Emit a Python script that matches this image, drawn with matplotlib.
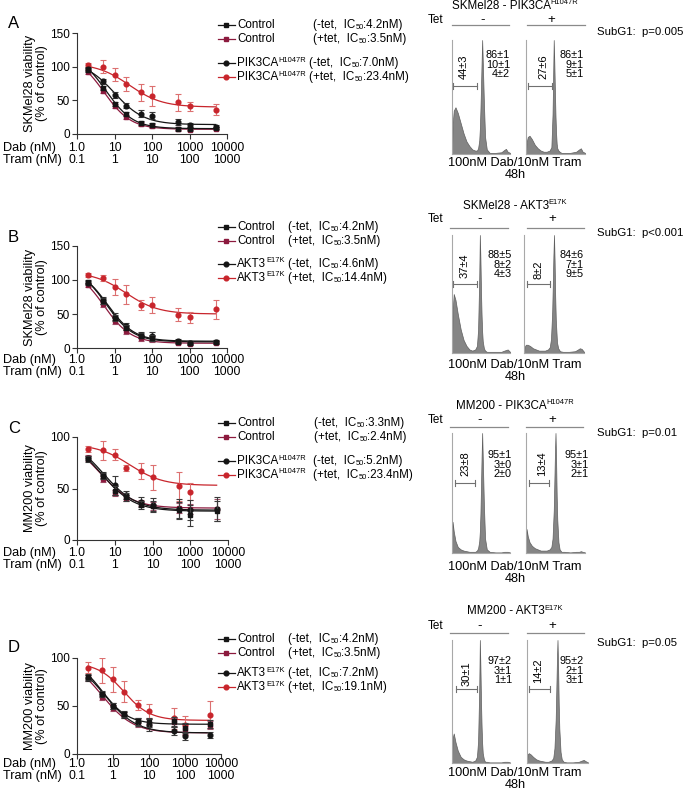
"""Dose-response curves + cell-cycle histograms (4 rows, A-D)."""

import numpy as np
import matplotlib

matplotlib.use("Agg")
import matplotlib.pyplot as plt
from matplotlib.lines import Line2D

plt.rcParams.update({
    "font.family": ["Liberation Sans", "DejaVu Sans"],
    "axes.linewidth": 0.8,
})

# ---------------------------------------------------------------- data
DAB = [2, 5, 10, 20, 50, 100, 500, 1000, 5000]
DAB_TICKS = [1, 10, 100, 1000, 10000]
DAB_LABELS = ["1.0", "10", "100", "1000", "10000"]
TRAM_LABELS = ["0.1", "1", "10", "100", "1000"]

# fits: (top, bottom, IC50 in Dab nM, hill)
A_CTRL_M = [95, 68, 45, 29, 17, 13, 8, 8, 9]
A_CTRL_M_ERR = [3, 3, 3, 3, 3, 3, 2, 2, 2]
A_CTRL_P = [92, 64, 41, 25, 15, 12, 7, 6, 8]
A_CTRL_P_ERR = [3, 3, 3, 3, 3, 3, 2, 2, 2]
A_MUT_M = [97, 78, 58, 42, 30, 27, 18, 13, 11]
A_MUT_M_ERR = [3, 3, 5, 4, 5, 5, 4, 3, 3]
A_MUT_P = [102, 100, 88, 74, 62, 57, 47, 41, 36]
A_MUT_P_ERR = [3, 10, 10, 10, 13, 15, 13, 7, 8]
A_FITS = [(120, 8, 6.0, 1.2), (118, 7, 5.2, 1.2), (108, 14, 10, 1.1), (105, 40, 25, 1.0)]

B_CTRL_M = [97, 69, 44, 30, 18, 15, 9, 8, 9]
B_CTRL_M_ERR = [3, 4, 4, 4, 4, 4, 2, 2, 2]
B_CTRL_P = [93, 64, 40, 25, 15, 13, 8, 6, 8]
B_CTRL_P_ERR = [3, 4, 4, 4, 4, 4, 2, 2, 2]
B_MUT_M = [96, 70, 46, 32, 19, 17, 10, 8, 9]
B_MUT_M_ERR = [3, 5, 5, 5, 5, 6, 3, 3, 3]
B_MUT_P = [108, 103, 90, 79, 63, 63, 49, 45, 57]
B_MUT_P_ERR = [3, 4, 12, 14, 7, 12, 10, 8, 14]
B_FITS = [(120, 9, 6.0, 1.2), (118, 7, 5.2, 1.2), (118, 10, 6.5, 1.2), (112, 50, 20, 1.0)]

C_CTRL_M = [79, 62, 48, 42, 34, 33, 29, 24, 28]
C_CTRL_M_ERR = [3, 3, 4, 4, 4, 5, 8, 10, 10]
C_CTRL_P = [80, 59, 46, 41, 36, 33, 31, 30, 30]
C_CTRL_P_ERR = [3, 3, 3, 3, 3, 4, 5, 5, 10]
C_MUT_M = [80, 63, 53, 44, 37, 34, 30, 29, 30]
C_MUT_M_ERR = [2, 3, 9, 4, 5, 7, 10, 10, 12]
C_MUT_P = [88, 87, 83, 70, 67, 61, 52, 47, np.nan]
C_MUT_P_ERR = [3, 9, 5, 3, 8, 12, 14, 8, 0]
C_FITS = [(100, 28, 4.5, 1.0), (100, 31, 4.0, 1.0), (100, 29, 5.0, 1.0), (93, 53, 25, 1.0)]

D_CTRL_M = [80, 63, 50, 42, 34, 33, 34, 27, 31]
D_CTRL_M_ERR = [3, 3, 3, 3, 4, 5, 5, 5, 4]
D_CTRL_P = [79, 59, 48, 41, 32, 31, 33, 26, 30]
D_CTRL_P_ERR = [3, 3, 3, 3, 4, 5, 5, 5, 4]
D_MUT_M = [79, 62, 50, 41, 33, 30, 24, 19, 20]
D_MUT_M_ERR = [3, 3, 3, 3, 4, 6, 4, 4, 3]
D_MUT_P = [90, 87, 78, 65, 51, 45, 37, 30, 41]
D_MUT_P_ERR = [6, 13, 13, 11, 5, 7, 11, 10, 14]
D_FITS = [(100, 31, 5.0, 1.2), (100, 22, 5.0, 1.0), (100, 22, 6.0, 1.0), (95, 35, 20, 1.2)]

# cell-cycle histograms (DNA content fraction -> normalised counts)
HIST_X = [0.00, 0.01, 0.03, 0.06, 0.10, 0.15, 0.20, 0.25, 0.30, 0.35,
          0.40, 0.43, 0.45, 0.47, 0.48, 0.49, 0.50, 0.51, 0.52, 0.53,
          0.55, 0.57, 0.60, 0.65, 0.75, 0.85, 0.90, 0.93, 0.96, 1.00]
A_HIST_M = [0.00, 0.25, 0.38, 0.41, 0.36, 0.27, 0.18, 0.11, 0.07, 0.04,
            0.03, 0.03, 0.05, 0.12, 0.22, 0.38, 0.58, 0.80, 1.00, 0.82,
            0.45, 0.15, 0.04, 0.01, 0.01, 0.015, 0.035, 0.045, 0.02, 0.01]
A_HIST_P = [0.00, 0.10, 0.15, 0.16, 0.13, 0.08, 0.05, 0.03, 0.02, 0.02,
            0.03, 0.06, 0.35, 1.00, 0.80, 0.55, 0.33, 0.18, 0.09, 0.05,
            0.03, 0.02, 0.01, 0.01, 0.01, 0.02, 0.04, 0.05, 0.02, 0.01]
B_HIST_M = [0.00, 0.35, 0.50, 0.45, 0.33, 0.20, 0.11, 0.06, 0.03, 0.02,
            0.03, 0.06, 0.20, 0.65, 1.00, 0.80, 0.52, 0.32, 0.18, 0.10,
            0.04, 0.02, 0.01, 0.01, 0.01, 0.01, 0.02, 0.025, 0.03, 0.01]
B_HIST_P = [0.00, 0.05, 0.07, 0.07, 0.06, 0.04, 0.03, 0.02, 0.02, 0.02,
            0.03, 0.05, 0.12, 0.35, 0.58, 0.82, 1.00, 0.78, 0.48, 0.28,
            0.09, 0.04, 0.015, 0.01, 0.01, 0.015, 0.03, 0.04, 0.035, 0.01]
C_HIST_M = [0.00, 0.26, 0.18, 0.10, 0.05, 0.03, 0.02, 0.015, 0.01, 0.01,
            0.01, 0.02, 0.04, 0.10, 0.18, 0.32, 0.55, 0.80, 1.00, 0.80,
            0.40, 0.12, 0.03, 0.01, 0.005, 0.005, 0.01, 0.01, 0.01, 0.005]
C_HIST_P = [0.00, 0.20, 0.14, 0.09, 0.06, 0.04, 0.03, 0.02, 0.02, 0.02,
            0.03, 0.05, 0.12, 0.35, 0.58, 0.82, 1.00, 0.78, 0.48, 0.28,
            0.09, 0.03, 0.01, 0.01, 0.005, 0.01, 0.01, 0.015, 0.01, 0.005]
D_HIST_M = [0.00, 0.20, 0.24, 0.17, 0.10, 0.05, 0.03, 0.02, 0.015, 0.01,
            0.02, 0.05, 0.18, 0.62, 1.00, 0.78, 0.50, 0.30, 0.16, 0.08,
            0.03, 0.01, 0.01, 0.005, 0.005, 0.005, 0.01, 0.01, 0.01, 0.005]
D_HIST_P = [0.00, 0.07, 0.08, 0.07, 0.05, 0.03, 0.02, 0.015, 0.01, 0.01,
            0.02, 0.04, 0.12, 0.35, 0.58, 0.82, 1.00, 0.78, 0.48, 0.28,
            0.09, 0.03, 0.01, 0.005, 0.005, 0.01, 0.02, 0.025, 0.015, 0.005]

SUBG1_M = ["44±3", "37±4", "23±8", "30±1"]
SUBG1_P = ["27±6", "8±2", "13±4", "14±2"]
PHASES_M = [["86±1", "10±1", "4±2"], ["88±5", "8±2", "4±3"],
            ["95±1", "3±0", "2±0"], ["97±2", "3±1", "1±1"]]
PHASES_P = [["86±1", "9±1", "5±1"], ["84±6", "7±1", "9±5"],
            ["95±1", "3±1", "2±1"], ["95±2", "2±1", "3±1"]]
PVALS = ["p=0.005", "p<0.001", "p=0.01", "p=0.05"]
CELL_LINES = ["SKMel28", "SKMel28", "MM200", "MM200"]
MUT_BASE = ["PIK3CA", "AKT3", "PIK3CA", "AKT3"]
MUT_SUP = ["H1047R", "E17K", "H1047R", "E17K"]
IC50 = [["4.2", "3.5", "7.0", "23.4"], ["4.2", "3.5", "4.6", "14.4"],
        ["3.3", "2.4", "5.2", "23.4"], ["4.2", "3.5", "7.2", "19.1"]]

# ---------------------------------------------------------------- style
BLACK = "#151515"
RED = "#c8252c"
MAROON = "#8c1a3e"
GRAY_FILL = "#858585"
LEG_FS = 8.4
W, H = 685, 792

fig = plt.figure(figsize=(W / 100, H / 100), dpi=100)
renderer = fig.canvas.get_renderer()


def fx(px):
    return px / W


def fy(py):
    return 1 - py / H


def axes_px(left, top, right, bottom):
    return fig.add_axes([fx(left), fy(bottom), (right - left) / W, (bottom - top) / H])


def hline(x0, x1, y, color="#8a8a8a", lw=0.9):
    fig.add_artist(Line2D([fx(x0), fx(x1)], [fy(y), fy(y)], color=color, lw=lw))


def vline(x, y0, y1, color="#8a8a8a", lw=0.9):
    fig.add_artist(Line2D([fx(x), fx(x)], [fy(y0), fy(y1)], color=color, lw=lw))


def text_width(s, fs):
    t = fig.text(0, 0, s, fontsize=fs)
    w = t.get_window_extent(renderer).width
    t.remove()
    return w


def rich_text(x, y, parts, ha="left"):
    """parts: (string, fontsize, dy px); drawn left to right from x (px)."""
    widths = [text_width(s, fs) for s, fs, _ in parts]
    x0 = x - sum(widths) / 2 if ha == "center" else x
    for (s, fs, dy), w in zip(parts, widths):
        fig.text(fx(x0), fy(y + dy), s, ha="left", va="center", fontsize=fs)
        x0 += w
    return x0


def dose_panel(box, ylim, yticks, series, fits, dab_dy, tram_dy):
    left, top, right, bottom = box
    ax = axes_px(*box)
    hpx = bottom - top
    styles = [("s", BLACK, "#3a3a3a", 6), ("s", MAROON, "#a0506a", 4),
              ("o", BLACK, "#3a3a3a", 5), ("o", RED, "#dc7070", 3)]
    xs = np.geomspace(DAB[0], DAB[-1], 300)
    for (y, err), (topv, bot, ec, hill), (mk, col, ecol, z) in zip(series, fits, styles):
        ax.plot(xs, bot + (topv - bot) / (1 + (xs / ec) ** hill), color=col, lw=0.9, zorder=z)
        ax.errorbar(DAB, y, yerr=err, fmt=mk, color=col, ms=3.4, ecolor=ecol,
                    elinewidth=0.8, capsize=2, capthick=0.8, zorder=z + 0.5)
    ax.set_xscale("log")
    ax.set_xlim(1, 10000)
    ax.set_ylim(*ylim)
    ax.set_yticks(yticks)
    ax.set_xticks(DAB_TICKS)
    ax.spines[["top", "right"]].set_visible(False)
    for s in ("left", "bottom"):
        ax.spines[s].set_color("#333333")
    ax.tick_params(axis="both", which="both", direction="out", color="#333333", width=0.8)
    ax.tick_params(axis="both", which="major", length=3.5, pad=1.5, labelsize=8.5)
    ax.tick_params(axis="x", which="minor", length=2)
    ax.tick_params(axis="x", labelbottom=False)
    for t, d, tr in zip(DAB_TICKS, DAB_LABELS, TRAM_LABELS):
        ax.text(t, -dab_dy / hpx, d, transform=ax.get_xaxis_transform(),
                ha="center", va="center", fontsize=8.8)
        ax.text(t, -tram_dy / hpx, tr, transform=ax.get_xaxis_transform(),
                ha="center", va="center", fontsize=8.8)
    fig.text(fx(3), fy(bottom + dab_dy), "Dab (nM)", ha="left", va="center", fontsize=9.2)
    fig.text(fx(3), fy(bottom + tram_dy), "Tram (nM)", ha="left", va="center", fontsize=9.2)
    return ax


def legend_block(i, rows_y, paren_x):
    tets = ["-tet", "+tet", "-tet", "+tet"]
    keys = [("s", BLACK), ("s", MAROON), ("o", BLACK), ("o", RED)]
    for k, (y, tet, ic, (mk, col), px) in enumerate(zip(rows_y, tets, IC50[i], keys, paren_x)):
        fig.add_artist(Line2D([fx(218), fx(235)], [fy(y), fy(y)], color=col, lw=0.9))
        fig.add_artist(Line2D([fx(226)], [fy(y)], color=col, marker=mk, ms=3.4, lw=0))
        if k < 2:
            fig.text(fx(237), fy(y), "Control", ha="left", va="center", fontsize=LEG_FS)
        else:
            rich_text(237, y, [(MUT_BASE[i], LEG_FS, 0), (MUT_SUP[i], 5.4, -3)])
        rich_text(px, y, [(f"({tet},  IC", LEG_FS, 0), ("50", 5.4, 2.5),
                          (f":{ic}nM)", LEG_FS, 0)])


def hist_axis(box, counts):
    ax = axes_px(*box)
    ax.fill_between(HIST_X, counts, color=GRAY_FILL, lw=0.5, edgecolor="#5f5f5f")
    ax.set_xlim(0, 1)
    ax.set_ylim(0, 1)
    ax.spines[["top", "right"]].set_visible(False)
    for s in ("left", "bottom"):
        ax.spines[s].set_color("#a8a8a8")
        ax.spines[s].set_linewidth(0.8)
    ax.set_xticks([])
    ax.set_yticks([])
    return ax


def flow_block(i, hists, boxes, title_y, tet_y, line_y, lines_x, sign_x, subg1_y,
               brackets, subg1_txt, phase_x, phase_y, foot_y):
    rich_text(515, title_y, [(f"{CELL_LINES[i]} - {MUT_BASE[i]}", 8.4, 0),
                             (MUT_SUP[i], 5.4, -3)], ha="center")
    fig.text(fx(428), fy(tet_y), "Tet", ha="left", va="center", fontsize=8.4)
    fig.text(fx(sign_x[0]), fy(tet_y), "-", ha="center", va="center", fontsize=9.5)
    fig.text(fx(sign_x[1]), fy(tet_y), "+", ha="center", va="center", fontsize=9.5)
    for x0, x1 in lines_x:
        hline(x0, x1, line_y)
    fig.text(fx(597), fy(subg1_y), "SubG1:  " + PVALS[i], ha="left", va="center", fontsize=8.2)
    for box, counts in zip(boxes, hists):
        hist_axis(box, counts)
    for (bx0, bx1, by), (tx, ty), txt in zip(brackets, subg1_txt, [SUBG1_M[i], SUBG1_P[i]]):
        hline(bx0, bx1, by, color="#707070", lw=0.8)
        vline(bx0, by - 3, by + 3, color="#707070", lw=0.8)
        vline(bx1, by - 3, by + 3, color="#707070", lw=0.8)
        fig.text(fx(tx), fy(ty), txt, rotation=90, ha="center", va="center", fontsize=8)
    for px, vals in zip(phase_x, [PHASES_M[i], PHASES_P[i]]):
        fig.text(fx(px), fy(phase_y), "\n".join(vals), ha="right", va="top",
                 multialignment="right", fontsize=7.8, linespacing=0.95)
    fig.text(fx(515), fy(foot_y), "100nM Dab/10nM Tram", ha="center", va="center", fontsize=9.2)
    fig.text(fx(515), fy(foot_y + 12), "48h", ha="center", va="center", fontsize=9.2)


# ---------------------------------------------------------------- panels
panels = [
    dict(box=(77, 33, 227, 134), ylim=(0, 150), yticks=[0, 50, 100, 150],
         series=[(A_CTRL_M, A_CTRL_M_ERR), (A_CTRL_P, A_CTRL_P_ERR),
                 (A_MUT_M, A_MUT_M_ERR), (A_MUT_P, A_MUT_P_ERR)],
         fits=A_FITS, dy=(14, 26), letter_y=23, ylab="SKMel28 viability",
         leg_y=[25, 39, 63, 77], paren_x=[313, 313, 309, 309]),
    dict(box=(77, 246, 227, 348), ylim=(0, 150), yticks=[0, 50, 100, 150],
         series=[(B_CTRL_M, B_CTRL_M_ERR), (B_CTRL_P, B_CTRL_P_ERR),
                 (B_MUT_M, B_MUT_M_ERR), (B_MUT_P, B_MUT_P_ERR)],
         fits=B_FITS, dy=(12, 24), letter_y=237, ylab="SKMel28 viability",
         leg_y=[227, 241, 264, 278], paren_x=[288, 288, 288, 288]),
    dict(box=(77, 437, 228, 540), ylim=(0, 100), yticks=[0, 50, 100],
         series=[(C_CTRL_M, C_CTRL_M_ERR), (C_CTRL_P, C_CTRL_P_ERR),
                 (C_MUT_M, C_MUT_M_ERR), (C_MUT_P, C_MUT_P_ERR)],
         fits=C_FITS, dy=(13, 25), letter_y=428, ylab="MM200 viability",
         leg_y=[423, 437, 461, 475], paren_x=[314, 314, 313, 313]),
    dict(box=(77, 658, 221, 754), ylim=(0, 100), yticks=[0, 50, 100],
         series=[(D_CTRL_M, D_CTRL_M_ERR), (D_CTRL_P, D_CTRL_P_ERR),
                 (D_MUT_M, D_MUT_M_ERR), (D_MUT_P, D_MUT_P_ERR)],
         fits=D_FITS, dy=(10, 22), letter_y=648, ylab="MM200 viability",
         leg_y=[639, 653, 673, 687], paren_x=[288, 288, 288, 288]),
]

for i, p in enumerate(panels):
    dose_panel(p["box"], p["ylim"], p["yticks"], p["series"], p["fits"], *p["dy"])
    fig.text(fx(8), fy(p["letter_y"]), "ABCD"[i], ha="left", va="center", fontsize=12)
    top, bottom = p["box"][1], p["box"][3]
    fig.text(fx(36), fy((top + bottom) / 2), p["ylab"] + "\n(% of control)", rotation=90,
             ha="center", va="center", fontsize=9.2, linespacing=1.1, multialignment="center")
    legend_block(i, p["leg_y"], p["paren_x"])

flow_block(0, [A_HIST_M, A_HIST_P], [(452, 40, 510, 154), (526, 40, 585, 154)],
           title_y=6, tet_y=20, line_y=25, lines_x=[(452, 509), (527, 585)], sign_x=(483, 551),
           subg1_y=32, brackets=[(453, 477, 86), (528, 552, 86)],
           subg1_txt=[(464, 67), (543, 67)], phase_x=(510, 584), phase_y=50,
           foot_y=163)
flow_block(1, [B_HIST_M, B_HIST_P], [(452, 235, 510, 353), (524, 235, 584, 353)],
           title_y=206, tet_y=219, line_y=228, lines_x=[(450, 508), (527, 584)], sign_x=(480, 552),
           subg1_y=233, brackets=[(453, 477, 284), (527, 550, 284)],
           subg1_txt=[(465, 266), (538, 270)], phase_x=(512, 584), phase_y=250,
           foot_y=365)
flow_block(2, [C_HIST_M, C_HIST_P], [(452, 433, 510, 553), (526, 433, 585, 553)],
           title_y=406, tet_y=420, line_y=427, lines_x=[(450, 508), (526, 583)], sign_x=(480, 552),
           subg1_y=433, brackets=[(455, 475, 483), (529, 549, 483)],
           subg1_txt=[(465, 464), (542, 464)], phase_x=(512, 589), phase_y=450,
           foot_y=567)
flow_block(3, [D_HIST_M, D_HIST_P], [(452, 640, 510, 763), (527, 640, 588, 763)],
           title_y=611, tet_y=626, line_y=633, lines_x=[(450, 508), (527, 584)], sign_x=(480, 552),
           subg1_y=643, brackets=[(456, 477, 689), (529, 550, 689)],
           subg1_txt=[(467, 674), (538, 671)], phase_x=(512, 584), phase_y=656,
           foot_y=773)

fig.savefig("out.png", dpi=100)
